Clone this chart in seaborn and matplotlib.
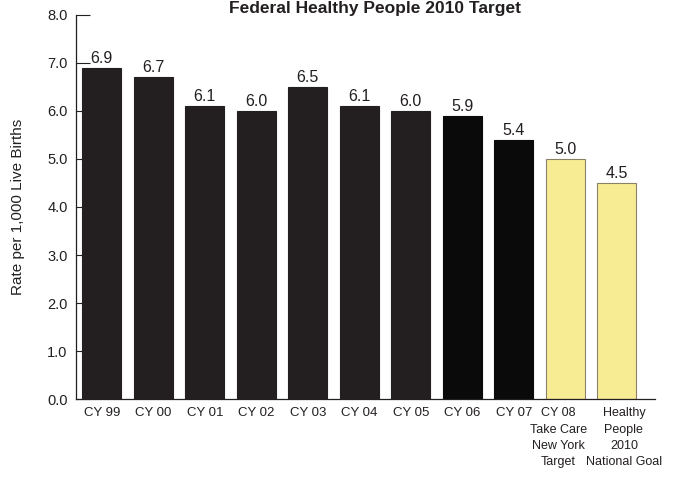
import matplotlib
matplotlib.use("Agg")
import matplotlib.pyplot as plt
import matplotlib.transforms as mtransforms
import seaborn as sns
import pandas as pd

categories = ["CY 99", "CY 00", "CY 01", "CY 02", "CY 03", "CY 04", "CY 05",
              "CY 06", "CY 07", "CY 08\nTake Care\nNew York\nTarget",
              "Healthy\nPeople\n2010\nNational Goal"]
rates = [6.9, 6.7, 6.1, 6.0, 6.5, 6.1, 6.0, 5.9, 5.4, 5.0, 4.5]
bar_colors = ["#231f20"] * 7 + ["#0a0a0a"] * 2 + ["#f7ec94"] * 2
edge_colors = ["#231f20"] * 7 + ["#0a0a0a"] * 2 + ["#8a8068"] * 2
y_ticks = [0.0, 1.0, 2.0, 3.0, 4.0, 5.0, 6.0, 7.0, 8.0]

sns.set_style("white")
plt.rcParams["font.family"] = ["Liberation Sans", "DejaVu Sans"]

df = pd.DataFrame({"period": categories, "rate": rates})

fig = plt.figure(figsize=(6.74, 4.78), dpi=100)
ax = fig.add_axes([0.1128, 0.165, 0.859, 0.804])

sns.barplot(data=df, x="period", y="rate", hue="period", palette=bar_colors,
            legend=False, width=0.76, saturation=1, ax=ax)

for patch, ec in zip(ax.patches, edge_colors):
    patch.set_edgecolor(ec)
    patch.set_linewidth(0.8)

for i, v in enumerate(rates):
    ax.text(i, v + 0.04, f"{v:.1f}", ha="center", va="bottom",
            fontsize=11.5, color="#231f20")

ax.set_ylim(0, 8.0)
ax.set_xlim(-0.5, 10.74)
ax.set_yticks(y_ticks)
ax.set_yticklabels([f"{t:.1f}" for t in y_ticks], fontsize=10.5, color="#231f20")
ax.tick_params(axis="y", direction="in", length=10, width=0.8, color="#231f20",
               left=True, pad=6)
ax.tick_params(axis="x", length=0, labelsize=9.5, labelcolor="#231f20", pad=6)
ax.set_xlabel("")
ax.set_ylabel("Rate per 1,000 Live Births", fontsize=11, color="#231f20", labelpad=16)

for side in ["top", "right"]:
    ax.spines[side].set_visible(False)
for side in ["left", "bottom"]:
    ax.spines[side].set_color("#231f20")
    ax.spines[side].set_linewidth(0.9)

# spread the two long multi-line labels apart a little
xlabels = ax.get_xticklabels()
for lbl in xlabels:
    lbl.set_linespacing(1.45)
for lbl, dx in [(xlabels[-2], -7), (xlabels[-1], 7)]:
    lbl.set_fontsize(9)
    offset = mtransforms.ScaledTranslation(dx / 100, 0, fig.dpi_scale_trans)
    lbl.set_transform(lbl.get_transform() + offset)

fig.text(0.556, 1 - 13 / 478, "Federal Healthy People 2010 Target", ha="center",
         va="baseline", fontsize=12.5, fontweight="bold", color="#231f20")

fig.savefig("out.png", dpi=100)
